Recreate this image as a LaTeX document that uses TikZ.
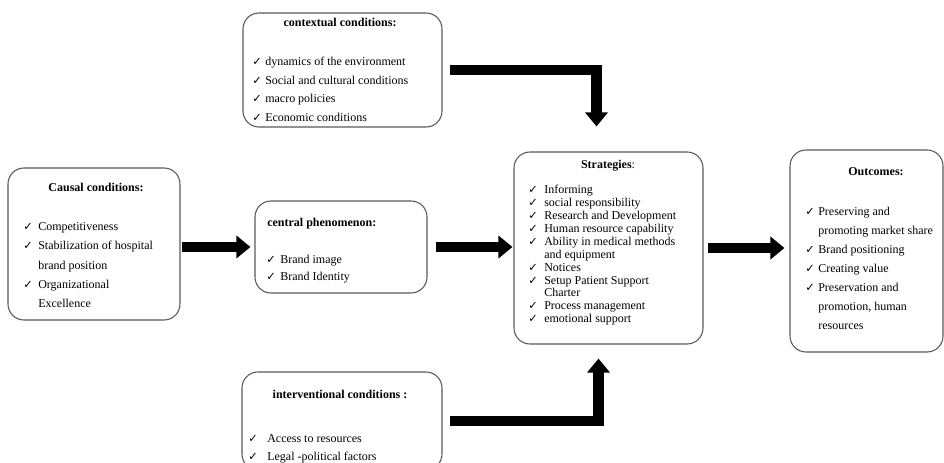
\documentclass[tikz,border=0pt]{standalone}
\usepackage{fontspec}
\setmainfont{Liberation Serif}
\newfontfamily\markfont{DejaVu Sans}
\usepackage{tikz}
\usetikzlibrary{arrows.meta,calc}
\definecolor{boxline}{HTML}{5A5A5A}
\newcommand{\ck}{{\markfont\fontsize{8.5}{8.5}\selectfont ✓}}
\newcommand{\cklist}[2]{\begin{tabular}[t]{@{}p{#1}@{}l@{}}#2\end{tabular}}

\begin{document}
\begin{tikzpicture}[
    x=0.75pt, y=-0.75pt,
    every node/.style={font=\fontsize{9}{11}\selectfont},
    panel/.style={draw=boxline, line width=0.8pt, rounded corners=12pt, inner sep=0pt, fill=white},
    head/.style={font=\fontsize{9}{11}\selectfont\bfseries, inner sep=0pt, anchor=base},
    items/.style={inner sep=0pt, anchor=base west},
    flow/.style={draw=black, line width=8pt, line join=miter,
      -{Triangle[width=16.5pt, length=10.5pt]}}
  ]
  \useasboundingbox (0,0) rectangle (944,463);

  % --- boxes -------------------------------------------------------------
  \node[panel, minimum width=149.25pt, minimum height=85.5pt]  (ctx)   at (342.5, 70)  {};
  \node[panel, minimum width=129pt,    minimum height=114pt]   (cause) at (94, 244)    {};
  \node[panel, minimum width=129pt,    minimum height=69pt]    (phen)  at (341, 247)   {};
  \node[panel, minimum width=141.75pt, minimum height=144pt]   (strat) at (608.5, 248) {};
  \node[panel, minimum width=114.75pt, minimum height=151.5pt] (outc)  at (866.5, 251) {};
  \node[panel, minimum width=150pt,    minimum height=73.5pt]  (intv)  at (342, 421)   {};

  % --- titles ------------------------------------------------------------
  \node[head] (ctxhead)   at (340, 27)    {contextual conditions:};
  \node[head] (causehead) at (96, 191.5)  {Causal conditions:};
  \node[head, anchor=base west] (phenhead) at (267, 226.5) {central phenomenon:};
  \node[head] (strathead) at (608, 168.5) {Strategies\textmd{:}};
  \node[head] (outchead)  at (876, 175.5) {Outcomes:};
  \node[head] (intvhead)  at (340, 398.5) {interventional conditions :};

  % --- lists -------------------------------------------------------------
  \node[items, font=\fontsize{9}{14}\selectfont] (ctxlist) at (252, 65.5)
    {\cklist{9.75pt}{\ck & dynamics of the environment\\ \ck & Social and cultural conditions\\
      \ck & macro policies\\ \ck & Economic conditions}};
  \node[items, font=\fontsize{9}{14.5}\selectfont] (causelist) at (23, 230.5)
    {\cklist{11.25pt}{\ck & Competitiveness\\ \ck & Stabilization of hospital\\ & brand position\\
      \ck & Organizational\\ & Excellence}};
  \node[items, font=\fontsize{9}{12.5}\selectfont] (phenlist) at (266, 263.5)
    {\cklist{10.5pt}{\ck & Brand image\\ \ck & Brand Identity}};
  \node[items, font=\fontsize{9}{9.7}\selectfont] (stratlist) at (528, 193.5)
    {\cklist{12pt}{\ck & Informing\\ \ck & social responsibility\\ \ck & Research and Development\\
      \ck & Human resource capability\\ \ck & Ability in medical methods\\ & and equipment\\
      \ck & Notices\\ \ck & Setup Patient Support\\ & Charter\\ \ck & Process management\\
      \ck & emotional support}};
  \node[items, font=\fontsize{9}{14.25}\selectfont] (outclist) at (805, 215.5)
    {\cklist{9.75pt}{\ck & Preserving and\\ & promoting market share\\ \ck & Brand positioning\\
      \ck & Creating value\\ \ck & Preservation and\\ & promotion, human\\ & resources}};
  \node[items, font=\fontsize{9}{13.5}\selectfont] (intvlist) at (248, 442.5)
    {\cklist{14.25pt}{\ck & Access to resources\\ \ck & Legal -political factors}};

  % --- block arrows ------------------------------------------------------
  \draw[flow, shorten <=0.75pt, shorten >=3pt]    (cause.east |- phen.west) -- (phen.west);
  \draw[flow, shorten <=6pt, shorten >=0.75pt]    (phen.east) -- (phen.east -| strat.west);
  \draw[flow, shorten <=3pt, shorten >=3.75pt]    (strat.east) -- (strat.east -| outc.west);
  \draw[flow, shorten <=5.25pt, shorten >=18.75pt] (ctx.east) -| ($(strat.north)+(-12,0)$);
  \draw[flow, shorten <=5.25pt, shorten >=10.5pt]  (intv.east) -| ($(strat.south)+(-10,0)$);

\end{tikzpicture}
\end{document}
